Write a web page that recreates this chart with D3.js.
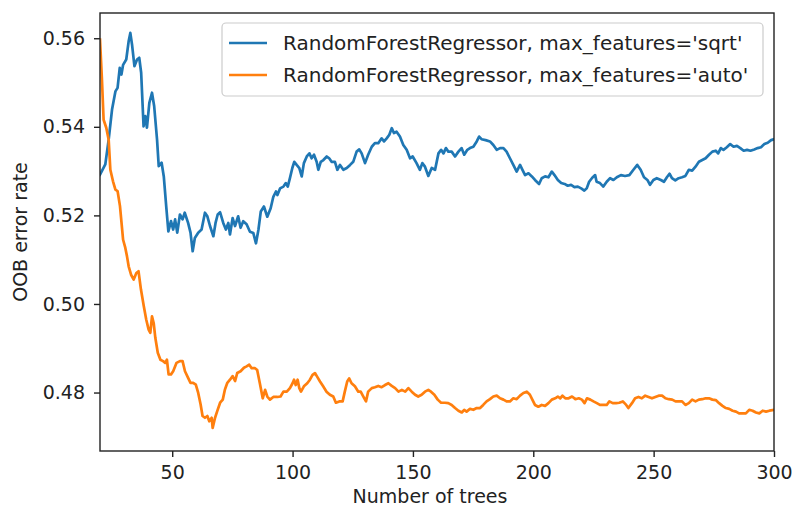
<!DOCTYPE html>
<html>
<head>
<meta charset="utf-8">
<script src="https://cdn.jsdelivr.net/npm/d3@7"></script>
<style>
  html, body { margin: 0; padding: 0; background: #fff; }
  text { font-family: "DejaVu Sans", sans-serif; fill: #222; }
</style>
</head>
<body>
<svg id="chart" width="792" height="512"></svg>
<script>
// OOB error rate, max_features='sqrt' (blue)
const sqrtTrees = [20, 22.2, 23.6, 25, 26.4, 27.3, 28.2, 28.9, 29.6, 30.9, 31.9, 32.6, 33.3, 34.3, 35.4, 36.3, 37.1, 38.1, 38.8, 39.5,
  40.5, 41.6, 42.5, 43.7, 44.4, 45.6, 46.5, 47.5, 48.4, 49.5, 50.4, 51.2, 52.1, 53.2, 54.3, 55.2, 56.6, 57.6, 58.5, 59.4,
  60.8, 62.2, 63.6, 64.6, 65.7, 67.1, 68, 68.9, 69.9, 71.2, 72.3, 73.3, 74, 75.1, 76.1, 77.4, 78.4, 79.5, 80.9, 82.3,
  83.7, 84.8, 85.8, 86.8, 88.1, 89.5, 90.9, 92, 93.1, 93.7, 94.8, 96.2, 97.2, 98, 98.9, 99.9, 100.7, 101.7, 102.8, 103.8,
  104.7, 105.9, 107, 107.9, 108.9, 110, 110.7, 111.7, 112.8, 114.2, 115.2, 116.2, 117.6, 118.6, 119.7, 121.1, 122.5, 123.9, 125.2, 126.6,
  127.7, 128.7, 130.1, 131.4, 132.9, 134.2, 135.6, 137, 138, 139.1, 140.2, 141.2, 142.1, 143.2, 144.6, 146, 147.4, 148.8, 149.9, 151.5,
  152.9, 153.9, 155, 156.4, 157.8, 159.2, 160.6, 161.7, 162.7, 163.7, 164.7, 166.1, 167.5, 168.9, 170.2, 171.3, 172.6, 173.7, 175.1, 176.5,
  177.5, 178.5, 180.2, 182, 183.4, 184.8, 186.2, 187.6, 188.9, 190.3, 191.7, 193.1, 194.5, 195.5, 196.6, 198, 199.4, 200.7, 202.4, 203.5,
  204.9, 206.3, 207.7, 208.8, 210.2, 211.6, 213, 214.3, 215.7, 217.1, 218.5, 219.9, 221.2, 222.2, 223.2, 224.5, 225.7, 226.3, 227.7, 229.1,
  230.5, 231.9, 233.3, 234.7, 236.4, 238.1, 239.9, 241.6, 243.2, 244.6, 246, 247.4, 248.5, 249.9, 251.3, 253, 254.3, 255.5, 256.6, 257.6,
  259, 260.4, 261.8, 263.2, 264.6, 266, 267.4, 268.8, 270.2, 271.6, 273, 274.4, 275.8, 276.8, 277.9, 279, 280.4, 281.8, 283.2, 284.6,
  286, 287.4, 288.8, 290.2, 291.8, 293.2, 294.6, 296, 297.4, 298.8, 300];
const sqrtError = [0.5292, 0.5315, 0.5371, 0.5439, 0.5480, 0.5488, 0.5533, 0.5518, 0.5540, 0.5552, 0.5593, 0.5612, 0.5586, 0.5537, 0.5552, 0.5556, 0.5522, 0.5401, 0.5424, 0.5398,
  0.5454, 0.5477, 0.5447, 0.5371, 0.5311, 0.5319, 0.5288, 0.5221, 0.5164, 0.5187, 0.5168, 0.5191, 0.5161, 0.5202, 0.5191, 0.5206, 0.5183, 0.5161, 0.5119, 0.5149,
  0.5161, 0.5168, 0.5206, 0.5198, 0.5176, 0.5153, 0.5183, 0.5202, 0.5207, 0.5183, 0.5168, 0.5183, 0.5157, 0.5194, 0.5176, 0.5198, 0.5172, 0.5187, 0.5180, 0.5163,
  0.5160, 0.5137, 0.5167, 0.5209, 0.5220, 0.5197, 0.5216, 0.5242, 0.5254, 0.5246, 0.5261, 0.5265, 0.5273, 0.5265, 0.5284, 0.5307, 0.5321, 0.5314, 0.5307, 0.5288,
  0.5318, 0.5333, 0.5340, 0.5329, 0.5337, 0.5321, 0.5303, 0.5321, 0.5325, 0.5333, 0.5329, 0.5321, 0.5321, 0.5303, 0.5314, 0.5303, 0.5307, 0.5314, 0.5321, 0.5344,
  0.5349, 0.5340, 0.5318, 0.5337, 0.5355, 0.5363, 0.5363, 0.5374, 0.5367, 0.5374, 0.5382, 0.5397, 0.5386, 0.5389, 0.5378, 0.5359, 0.5348, 0.5329, 0.5333, 0.5318,
  0.5303, 0.5318, 0.5310, 0.5289, 0.5307, 0.5303, 0.5340, 0.5348, 0.5340, 0.5352, 0.5344, 0.5344, 0.5333, 0.5344, 0.5352, 0.5337, 0.5348, 0.5352, 0.5355, 0.5367,
  0.5378, 0.5372, 0.5370, 0.5367, 0.5359, 0.5348, 0.5352, 0.5352, 0.5344, 0.5329, 0.5314, 0.5299, 0.5314, 0.5303, 0.5291, 0.5295, 0.5288, 0.5280, 0.5271, 0.5284,
  0.5288, 0.5286, 0.5299, 0.5291, 0.5280, 0.5273, 0.5271, 0.5267, 0.5269, 0.5264, 0.5265, 0.5261, 0.5256, 0.5261, 0.5276, 0.5285, 0.5291, 0.5276, 0.5273, 0.5265,
  0.5276, 0.5284, 0.5280, 0.5286, 0.5291, 0.5289, 0.5291, 0.5303, 0.5314, 0.5303, 0.5286, 0.5280, 0.5269, 0.5280, 0.5284, 0.5280, 0.5276, 0.5286, 0.5294, 0.5284,
  0.5279, 0.5284, 0.5286, 0.5289, 0.5303, 0.5301, 0.5310, 0.5321, 0.5325, 0.5329, 0.5337, 0.5344, 0.5346, 0.5340, 0.5352, 0.5348, 0.5354, 0.5361, 0.5355, 0.5357,
  0.5352, 0.5346, 0.5348, 0.5346, 0.5349, 0.5352, 0.5354, 0.5361, 0.5364, 0.5370, 0.5372];

// OOB error rate, max_features='auto' (orange)
const autoTrees = [20, 20.8, 21.5, 22.6, 23.6, 24.3, 25.4, 26.4, 27.3, 28.3, 29.6, 30.5, 31.2, 31.9, 32.9, 34, 35.1, 36, 37, 38.2,
  39.2, 40.2, 40.9, 41.6, 42.3, 43, 44, 45.1, 46.2, 47.1, 47.8, 48.5, 49.5, 50.4, 51.8, 53.2, 54.3, 55.3, 56.6, 57.6,
  58.7, 59.8, 60.8, 61.8, 62.6, 63.6, 64.6, 65.4, 66.4, 66.8, 67.8, 68.7, 69.9, 71, 71.9, 72.9, 74, 75.1, 76.1, 77,
  78.4, 79.8, 80.9, 82, 83, 84.4, 85.3, 86.4, 87.6, 88.6, 89.5, 90.6, 92, 93.7, 95, 96.2, 97.6, 98.9, 100, 100.6,
  101.3, 102.1, 102.8, 103.5, 104.7, 106.1, 107.2, 108.3, 109.3, 110.2, 111.4, 112.7, 114.1, 115.5, 116.9, 118, 119.4, 120.8, 121.7, 122.7,
  123.5, 124.5, 125.9, 127.3, 128.3, 129.4, 130.5, 131.4, 132.9, 134.2, 135.6, 137, 138.4, 139.8, 141.2, 142.6, 144, 145.4, 146.8, 148.1,
  149.5, 150.9, 152.2, 153.6, 155, 156.4, 157.5, 158.9, 160.3, 161.7, 163.3, 164.7, 166.1, 167.5, 168.9, 170.3, 171.3, 172.3, 173.7, 175.1,
  176.5, 177.9, 179.2, 180.6, 182, 183.4, 184.8, 186.2, 187.6, 188.9, 190.3, 191.7, 193.1, 194.5, 195.9, 197.3, 198.6, 199.6, 200.7, 202.1,
  203.5, 204.9, 206.3, 207.7, 209.1, 210.2, 211.2, 212.1, 213.3, 214.7, 216.1, 217.5, 218.9, 220.2, 221.3, 222.3, 223.7, 225, 226.4, 227.7,
  229.1, 230.5, 231.6, 233, 234.4, 235.7, 237.2, 238.6, 239.5, 241, 242.3, 243.7, 245.1, 246.5, 247.9, 249.3, 250.7, 252.1, 253.5, 254.9,
  256.3, 257.7, 259.1, 260.5, 261.8, 263.2, 264.6, 266, 267.4, 268.8, 270.2, 271.6, 273, 274.4, 275.8, 277.2, 278.6, 280, 281.4, 282.8,
  284.2, 285.5, 286.9, 288.3, 289.7, 291.1, 292.5, 293.9, 295.3, 296.7, 298.1, 300];
const autoError = [0.5597, 0.5507, 0.5416, 0.5398, 0.5371, 0.5303, 0.5277, 0.5258, 0.5255, 0.5221, 0.5145, 0.5127, 0.5108, 0.5085, 0.5066, 0.5055, 0.5070, 0.5074, 0.5033, 0.4995,
  0.4965, 0.4942, 0.4935, 0.4972, 0.4957, 0.4923, 0.4890, 0.4874, 0.4871, 0.4867, 0.4874, 0.4841, 0.4841, 0.4848, 0.4867, 0.4871, 0.4871, 0.4848, 0.4833, 0.4822,
  0.4822, 0.4818, 0.4799, 0.4773, 0.4747, 0.4743, 0.4747, 0.4735, 0.4743, 0.4720, 0.4743, 0.4758, 0.4777, 0.4784, 0.4807, 0.4822, 0.4829, 0.4837, 0.4826, 0.4844,
  0.4848, 0.4856, 0.4859, 0.4863, 0.4855, 0.4855, 0.4851, 0.4821, 0.4787, 0.4806, 0.4791, 0.4784, 0.4790, 0.4790, 0.4791, 0.4802, 0.4802, 0.4810, 0.4821, 0.4829,
  0.4817, 0.4829, 0.4810, 0.4802, 0.4814, 0.4821, 0.4829, 0.4840, 0.4844, 0.4836, 0.4825, 0.4814, 0.4802, 0.4795, 0.4791, 0.4777, 0.4780, 0.4780, 0.4802, 0.4825,
  0.4832, 0.4821, 0.4814, 0.4802, 0.4802, 0.4791, 0.4780, 0.4802, 0.4810, 0.4812, 0.4815, 0.4812, 0.4817, 0.4821, 0.4815, 0.4810, 0.4802, 0.4806, 0.4802, 0.4810,
  0.4802, 0.4795, 0.4791, 0.4795, 0.4802, 0.4806, 0.4802, 0.4795, 0.4784, 0.4777, 0.4777, 0.4776, 0.4772, 0.4765, 0.4759, 0.4755, 0.4761, 0.4757, 0.4763, 0.4761,
  0.4765, 0.4765, 0.4772, 0.4780, 0.4785, 0.4791, 0.4793, 0.4787, 0.4784, 0.4780, 0.4780, 0.4787, 0.4785, 0.4793, 0.4799, 0.4802, 0.4795, 0.4784, 0.4772, 0.4768,
  0.4772, 0.4770, 0.4776, 0.4784, 0.4787, 0.4791, 0.4787, 0.4793, 0.4787, 0.4787, 0.4791, 0.4785, 0.4787, 0.4784, 0.4776, 0.4787, 0.4784, 0.4780, 0.4776, 0.4772,
  0.4772, 0.4772, 0.4780, 0.4776, 0.4776, 0.4777, 0.4780, 0.4772, 0.4765, 0.4776, 0.4787, 0.4790, 0.4787, 0.4793, 0.4790, 0.4787, 0.4790, 0.4793, 0.4793, 0.4787,
  0.4785, 0.4784, 0.4780, 0.4780, 0.4780, 0.4772, 0.4776, 0.4784, 0.4780, 0.4784, 0.4785, 0.4787, 0.4787, 0.4784, 0.4783, 0.4776, 0.4770, 0.4765, 0.4763, 0.4759,
  0.4757, 0.4753, 0.4753, 0.4753, 0.4761, 0.4759, 0.4755, 0.4753, 0.4759, 0.4757, 0.4759, 0.4761];

const xTicks = [50, 100, 150, 200, 250, 300];
const yTicks = [0.48, 0.50, 0.52, 0.54, 0.56];
const seriesLabels = ["RandomForestRegressor, max_features='sqrt'", "RandomForestRegressor, max_features='auto'"];
const seriesColors = ["#1f77b4", "#ff7f0e"];

const width = 792, height = 512;
const margin = { top: 13, right: 18, bottom: 61, left: 100 };

const svg = d3.select("#chart");

const x = d3.scaleLinear().domain([20, 300]).range([margin.left, width - margin.right]);
const y = d3.scaleLinear().domain([0.4668, 0.5657]).range([height - margin.bottom, margin.top]);

svg.append("defs").append("clipPath").attr("id", "plot-clip")
  .append("rect")
  .attr("x", margin.left).attr("y", margin.top)
  .attr("width", width - margin.left - margin.right)
  .attr("height", height - margin.top - margin.bottom);

// lines
const series = [
  { trees: sqrtTrees, err: sqrtError },
  { trees: autoTrees, err: autoError }
];
const line = d3.line().x((d) => x(d[0])).y((d) => y(d[1]));

svg.append("g").attr("clip-path", "url(#plot-clip)")
  .selectAll("path")
  .data(series)
  .join("path")
  .attr("fill", "none")
  .attr("stroke", (d, i) => seriesColors[i])
  .attr("stroke-width", 2.7)
  .attr("stroke-linejoin", "round")
  .attr("stroke-linecap", "square")
  .attr("d", (d) => line(d.trees.map((t, i) => [t, d.err[i]])));

// axes
const xAxis = svg.append("g")
  .attr("transform", `translate(0,${height - margin.bottom})`)
  .call(d3.axisBottom(x).tickValues(xTicks).tickSize(6).tickPadding(9).tickFormat(d3.format("d")));
const yAxis = svg.append("g")
  .attr("transform", `translate(${margin.left},0)`)
  .call(d3.axisLeft(y).tickValues(yTicks).tickSize(6).tickPadding(9).tickFormat(d3.format(".2f")));

[xAxis, yAxis].forEach((ax) => {
  ax.select(".domain").remove();
  ax.selectAll(".tick line").attr("stroke", "#222").attr("stroke-width", 1.4);
  ax.selectAll(".tick text")
    .attr("fill", "#222")
    .style("font-family", "'DejaVu Sans', sans-serif")
    .style("font-size", "19px");
});

// spines
svg.append("rect")
  .attr("x", margin.left).attr("y", margin.top)
  .attr("width", width - margin.left - margin.right)
  .attr("height", height - margin.top - margin.bottom)
  .attr("fill", "none")
  .attr("stroke", "#222")
  .attr("stroke-width", 1.4);

// axis labels
svg.append("text")
  .attr("x", 430)
  .attr("y", 503)
  .attr("text-anchor", "middle")
  .style("font-size", "19px")
  .text("Number of trees");

svg.append("text")
  .attr("transform", `translate(27,${(margin.top + height - margin.bottom) / 2}) rotate(-90)`)
  .attr("text-anchor", "middle")
  .style("font-size", "19px")
  .text("OOB error rate");

// legend
const legend = svg.append("g");
legend.append("rect")
  .attr("x", 222).attr("y", 23)
  .attr("width", 541).attr("height", 73)
  .attr("rx", 4)
  .attr("fill", "#fff").attr("fill-opacity", 0.8)
  .attr("stroke", "#ccc").attr("stroke-width", 1.2);

const items = legend.selectAll("g.item")
  .data(seriesLabels)
  .join("g")
  .attr("class", "item")
  .attr("transform", (d, i) => `translate(0,${43 + i * 32})`);
items.append("line")
  .attr("x1", 229).attr("x2", 267)
  .attr("stroke", (d, i) => seriesColors[i])
  .attr("stroke-width", 2.7);
items.append("text")
  .attr("x", 283).attr("y", 7)
  .style("font-size", "20px")
  .text((d) => d);
</script>
</body>
</html>
